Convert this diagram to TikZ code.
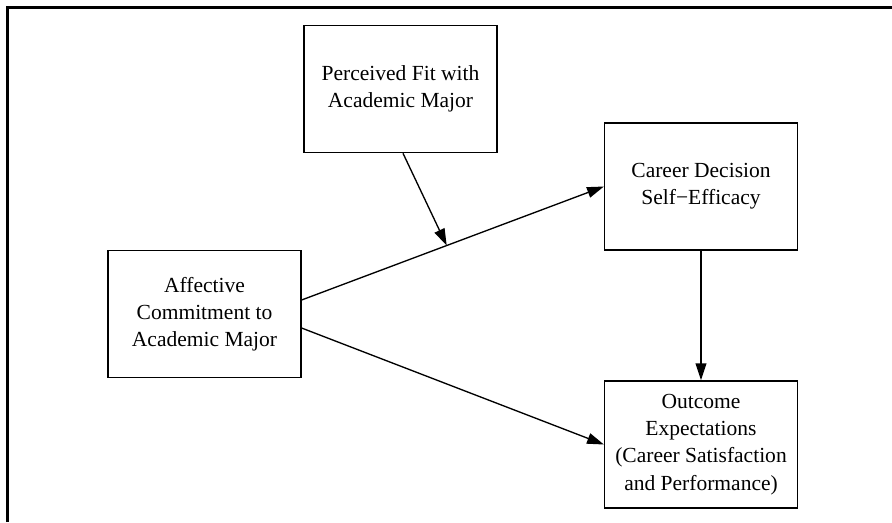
\documentclass[tikz,border=0pt]{standalone}
\usepackage{fontspec}
\setmainfont{Liberation Serif}
\usetikzlibrary{arrows.meta,calc}

\tikzset{
  varbox/.style={draw, line width=0.95pt, minimum width=4.82cm, minimum height=3.18cm,
    align=center, font=\fontsize{15.3}{19.3}\selectfont, inner sep=2pt},
  link/.style={line width=0.95pt, -{Triangle[length=0.42cm, width=0.27cm]}}
}

\begin{document}
\begin{tikzpicture}[x=0.025cm, y=-0.025cm]
    \useasboundingbox (0,0) rectangle (892,522);

    % frame
    \draw[line width=1.6pt] (7.5,522) -- (7.5,7.5) -- (892,7.5);

    % variables
    \node[varbox] (fit) at (400.5,89) {Perceived Fit with\\Academic Major};
    \node[varbox] (cdse) at (701,186.5) {Career Decision\\Self−Efficacy};
    \node[varbox] (acam) at (204.5,314) {Affective\\Commitment to\\Academic Major};
    \node[varbox] (outc) at (701,444.5) {Outcome\\Expectations\\(Career Satisfaction\\and Performance)};

    % paths
    \coordinate (a1) at ($(acam.east)+(0,-14)$);
    \coordinate (a2) at ($(acam.east)+(0,14)$);
    \draw[link] (a1) -- coordinate[pos=0.48] (mod) (cdse.west);
    \draw[link] (a2) -- (outc.west);
    \draw[link] ($(fit.south)+(2.5,0)$) -- (mod);
    \draw[link] (cdse.south) -- (outc.north);
\end{tikzpicture}
\end{document}
